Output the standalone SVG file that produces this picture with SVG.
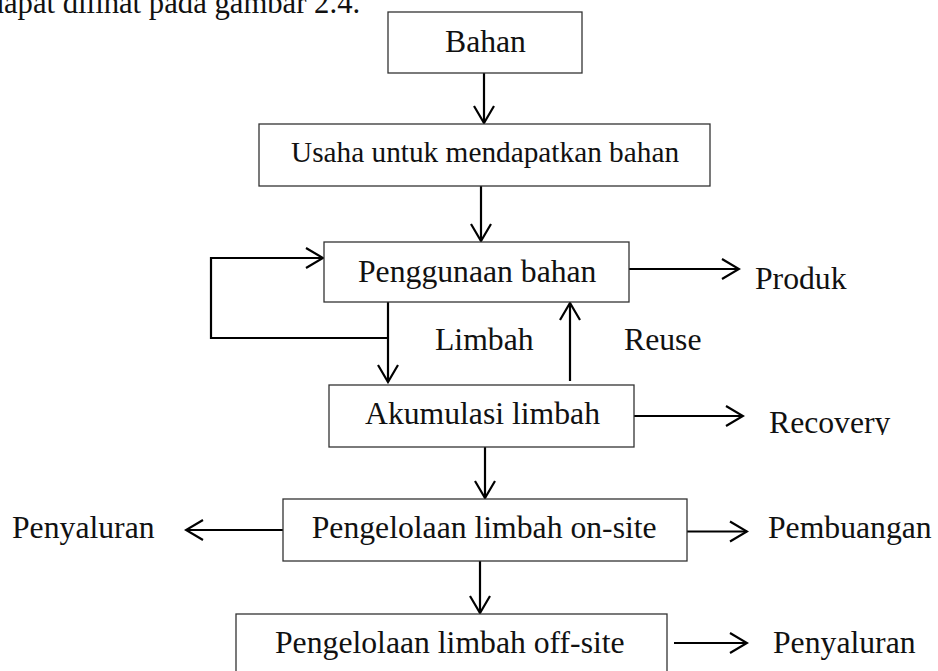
<svg xmlns="http://www.w3.org/2000/svg" width="938" height="671" viewBox="0 0 938 671">
<style>
text{font-family:"Liberation Serif","Times New Roman",serif;font-size:31.7px;fill:#111}
.box{fill:#fff;stroke:#333;stroke-width:1.3}
.ln{fill:none;stroke:#000;stroke-width:2.2}
.ar{marker-end:url(#ah)}
</style>
<defs>
<marker id="ah" markerUnits="userSpaceOnUse" markerWidth="22" markerHeight="24" viewBox="-20 -12 22 24" refX="0" refY="0" orient="auto">
<path d="M-17,-10 L0,0 L-17,10" fill="none" stroke="#000" stroke-width="2.2"/>
</marker>
<clipPath id="recclip"><rect x="760" y="390" width="170" height="45"/></clipPath>
</defs>
<rect width="938" height="671" fill="#fff"/>
<text x="-11.4" y="12.7" style="font-size:30.7px">dapat dilihat pada gambar 2.4.</text>
<g id="connectors">
<line class="ln ar" x1="484" y1="73" x2="484" y2="123"/>
<line class="ln ar" x1="481" y1="186" x2="481" y2="241"/>
<polyline class="ln ar" points="388,338 211,338 211,258 323,258"/>
<line class="ln ar" x1="388" y1="302" x2="388" y2="382"/>
<line class="ln ar" x1="570" y1="381" x2="570" y2="303"/>
<line class="ln ar" x1="629" y1="269" x2="739" y2="269"/>
<line class="ln ar" x1="634" y1="416" x2="743" y2="416"/>
<line class="ln ar" x1="485" y1="447" x2="485" y2="498"/>
<line class="ln ar" x1="283" y1="530" x2="186" y2="530"/>
<line class="ln ar" x1="687" y1="531.5" x2="747" y2="531.5"/>
<line class="ln ar" x1="480" y1="561" x2="480" y2="613"/>
<line class="ln ar" x1="674" y1="643" x2="747" y2="643"/>
</g>
<g id="bahan"><rect class="box" x="388" y="12" width="194" height="61"/><text x="445" y="51.7">Bahan</text></g>
<g id="usaha"><rect class="box" x="259" y="124" width="451" height="62"/><text x="291" y="162" style="font-size:29.3px">Usaha untuk mendapatkan bahan</text></g>
<g id="penggunaan"><rect class="box" x="324" y="242" width="305" height="60"/><text x="358" y="281.7">Penggunaan bahan</text></g>
<g id="akumulasi"><rect class="box" x="329" y="385" width="305" height="62"/><text x="365" y="424">Akumulasi limbah</text></g>
<g id="onsite"><rect class="box" x="283" y="499" width="404" height="62"/><text x="311.7" y="538.3">Pengelolaan limbah on-site</text></g>
<g id="offsite"><rect class="box" x="236" y="614" width="431" height="70"/><text x="275" y="653">Pengelolaan limbah off-site</text></g>
<g id="labels">
<text x="435" y="350">Limbah</text>
<text x="624" y="350">Reuse</text>
<text x="755" y="289.3">Produk</text>
<text x="769" y="433" clip-path="url(#recclip)">Recovery</text>
<text x="12" y="538.3">Penyaluran</text>
<text x="768" y="538.3">Pembuangan</text>
<text x="773" y="653">Penyaluran</text>
</g>
</svg>
